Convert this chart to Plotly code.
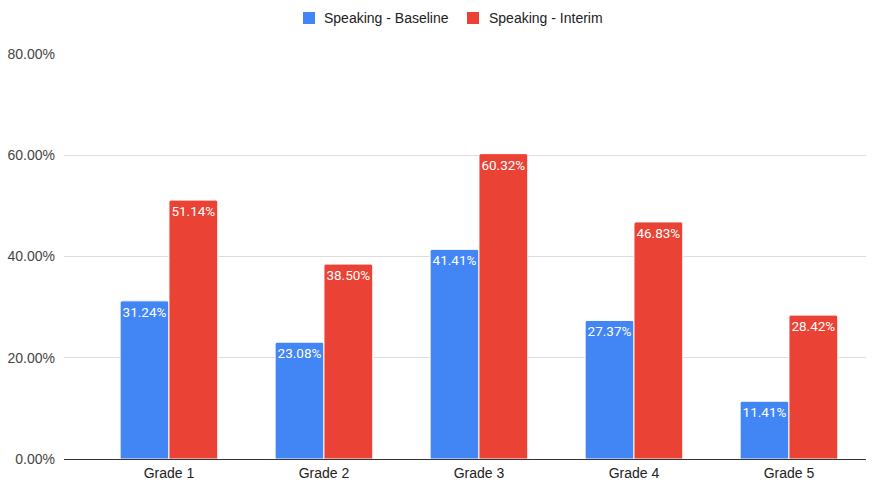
import plotly.graph_objects as go

grades = ["Grade 1", "Grade 2", "Grade 3", "Grade 4", "Grade 5"]
baseline = [0.3124, 0.2308, 0.4141, 0.2737, 0.1141]
interim = [0.5114, 0.3850, 0.6032, 0.4683, 0.2842]
y_ticks = [0, 0.2, 0.4, 0.6, 0.8]
series_names = ["Speaking - Baseline", "Speaking - Interim"]

BLUE = "#4285F4"
RED = "#EA4335"
LABEL_FONT = "Roboto, sans-serif"
AXIS_FONT = "Arial, 'Liberation Sans', sans-serif"

# plot area in pixels
W, H = 880, 482
L, R, T, B = 64, 14, 54, 23
PW, PH = W - L - R, H - T - B


def px_x(px):
    return (px - L) / PW


def px_y(py):
    return (H - B - py) / PH


fig = go.Figure()
for name, vals, color in [(series_names[0], baseline, BLUE),
                          (series_names[1], interim, RED)]:
    fig.add_trace(go.Bar(
        x=grades, y=vals, name=name, showlegend=False,
        marker=dict(color=color, line=dict(color="white", width=1)),
        text=[f"{v:.2%}" for v in vals],
        textposition="inside", insidetextanchor="end",
        textangle=0, constraintext="none",
        textfont=dict(color="white", size=13.5, family=LABEL_FONT),
        cliponaxis=False,
    ))

# legend drawn as colored squares with text beside them
shapes = []
annotations = []
for (x0, tx), name, color in zip([(303, 322), (467, 487)], series_names, [BLUE, RED]):
    shapes.append(dict(
        type="rect", xref="paper", yref="paper",
        x0=px_x(x0), x1=px_x(x0 + 12), y0=px_y(24), y1=px_y(12),
        fillcolor=color, line=dict(width=0),
    ))
    annotations.append(dict(
        text=name, xref="paper", yref="paper",
        x=px_x(tx), y=px_y(18), xanchor="left", yanchor="middle",
        showarrow=False, font=dict(family=AXIS_FONT, size=14, color="#222222"),
    ))

fig.update_layout(
    width=W, height=H,
    margin=dict(l=L, r=R, t=T, b=B, autoexpand=False),
    paper_bgcolor="white", plot_bgcolor="white",
    barmode="group", bargap=0.37, bargroupgap=0.0,
    barcornerradius=2,
    font=dict(family=AXIS_FONT, size=14, color="#444444"),
    showlegend=False,
    shapes=shapes, annotations=annotations,
    uniformtext=dict(minsize=12, mode="show"),
)

fig.update_xaxes(
    range=[-0.677, 4.497], showgrid=False, showline=False,
    ticks="", ticklabelstandoff=4, automargin=False,
    tickfont=dict(family=AXIS_FONT, size=14, color="#222222"),
)
fig.update_yaxes(
    range=[0, 0.8], tickvals=y_ticks, tickformat=".2%",
    showgrid=True, gridcolor="#dddddd", gridwidth=1,
    zeroline=True, zerolinecolor="#333333", zerolinewidth=1,
    showline=False, ticks="", ticklabelstandoff=8, automargin=False,
    tickfont=dict(family=AXIS_FONT, size=14, color="#444444"),
)

fig.write_html("out.html")
